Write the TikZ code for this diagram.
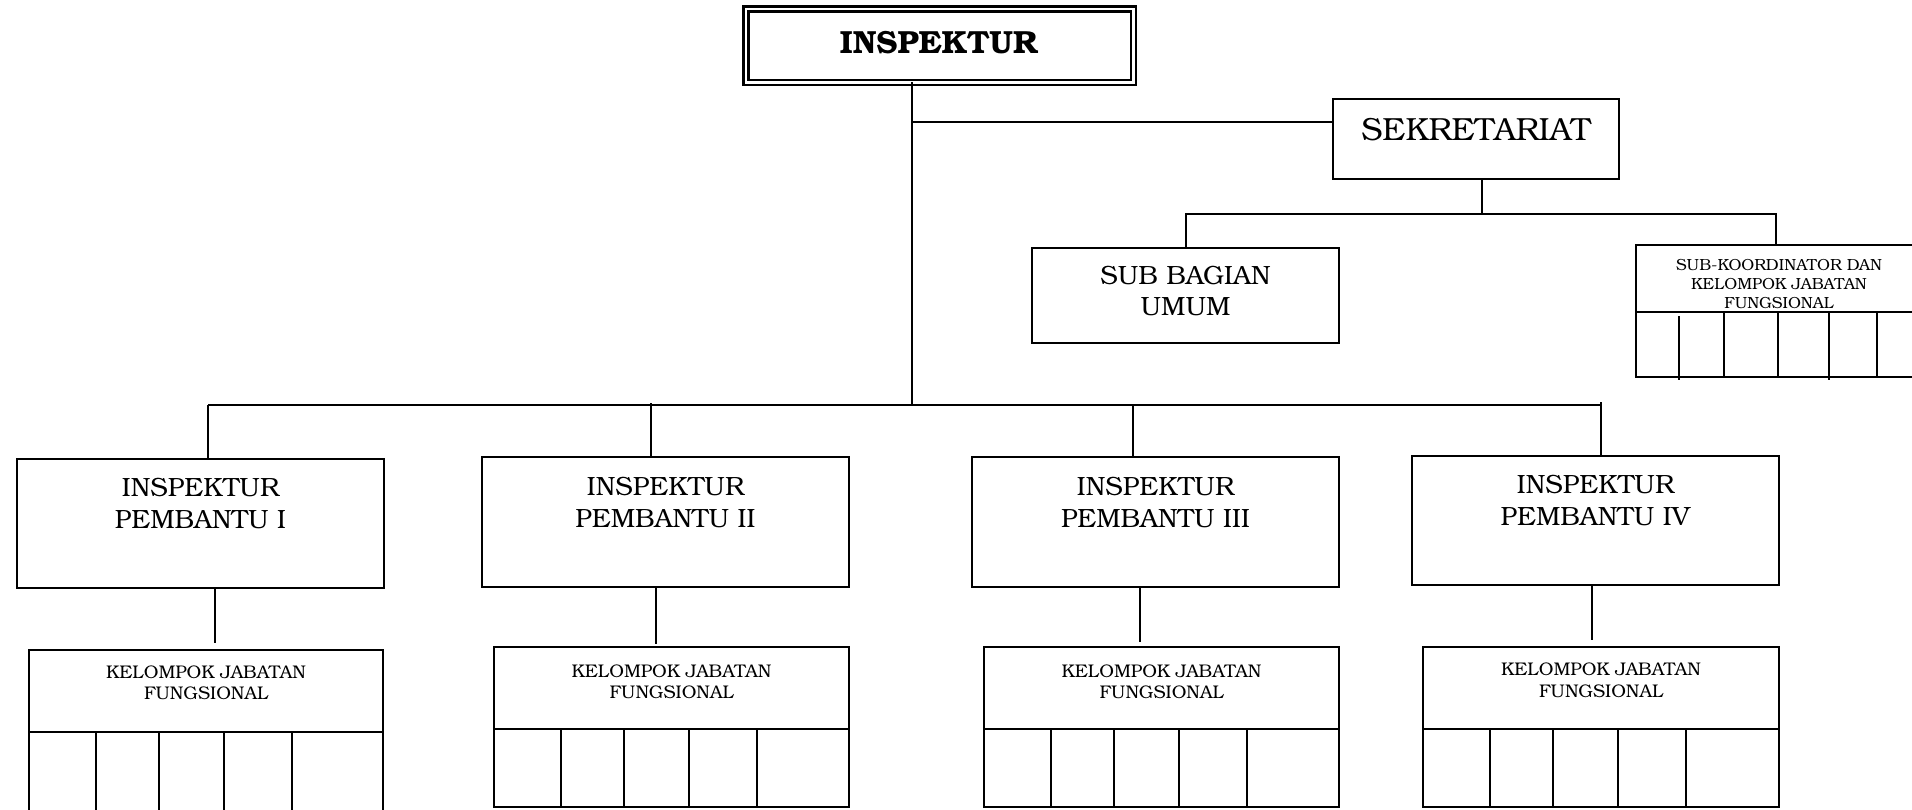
\documentclass[tikz,border=0pt]{standalone}
\usepackage{fontspec}
\setmainfont{texgyrebonum}[Extension=.otf, UprightFont=*-regular, BoldFont=*-bold]
\begin{document}
\begin{tikzpicture}[x=1pt,y=-1pt,
  line width=2pt,
  box/.style={draw, rectangle, line width=2pt, inner sep=0pt, outer sep=0pt, anchor=north west},
  conn/.style={line width=2pt},
  tbig/.style={anchor=base, inner sep=0pt, font=\fontsize{32}{36}\selectfont},
  tmid/.style={anchor=base, inner sep=0pt, font=\fontsize{26.4}{31}\selectfont},
  tsml/.style={anchor=base, inner sep=0pt, font=\fontsize{18.3}{21}\selectfont},
  txs/.style={anchor=base, inner sep=0pt, font=\fontsize{16.1}{19}\selectfont}]
\useasboundingbox (0,0) rectangle (1912,809);
\clip (0,0) rectangle (1912,809);

% boxes
\node[draw, rectangle, line width=2.5pt, double, double distance=2.5pt, inner sep=0pt, outer sep=0pt,
      minimum width=387.5pt, minimum height=73.5pt] (insp) at (939.5,45.5) {};
\node[box, minimum width=286pt, minimum height=80pt]  (sek)  at (1333,99) {};
\node[box, minimum width=307pt, minimum height=95pt]  (sbu)  at (1032,248) {};
\node[box, minimum width=286pt, minimum height=132pt] (skf)  at (1636,245) {};
\node[box, minimum width=367pt, minimum height=129pt] (ip1)  at (17,459) {};
\node[box, minimum width=367pt, minimum height=130pt] (ip2)  at (482,457) {};
\node[box, minimum width=367pt, minimum height=130pt] (ip3)  at (972,457) {};
\node[box, minimum width=367pt, minimum height=129pt] (ip4)  at (1412,456) {};
\node[box, minimum width=354pt, minimum height=170pt] (kjf1) at (29,650) {};
\node[box, minimum width=355pt, minimum height=160pt] (kjf2) at (494,647) {};
\node[box, minimum width=355pt, minimum height=160pt] (kjf3) at (984,647) {};
\node[box, minimum width=356pt, minimum height=160pt] (kjf4) at (1423,647) {};

% grids inside the functional-group boxes
\foreach \n in {kjf1,kjf2,kjf3,kjf4} {
  \draw ([shift={(0,82)}]\n.north west) -- ([shift={(0,82)}]\n.north east);
  \foreach \dx in {67,130,195,263}
    \draw ([shift={(\dx,82)}]\n.north west) -- ([shift={(\dx,0)}]\n.south west);
}
\draw ([shift={(0,67)}]skf.north west) -- ([shift={(0,67)}]skf.north east);
\draw ([shift={(43,71)}]skf.north west) -- ([shift={(43,3)}]skf.south west);
\foreach \dx in {88,142,241}
  \draw ([shift={(\dx,67)}]skf.north west) -- ([shift={(\dx,0)}]skf.south west);
\draw ([shift={(193,67)}]skf.north west) -- ([shift={(193,3)}]skf.south west);

% texts
\node[tbig, font=\fontsize{32}{36}\selectfont\bfseries] (t-insp) at (939,53) {INSPEKTUR};
\node[tbig] (t-sek) at (1476,140) {SEKRETARIAT};
\node[tmid] (t-sbu1) at (1185.5,284) {SUB BAGIAN};
\node[tmid] (t-sbu2) at (1185.5,315) {UMUM};
\node[txs] (t-skf1) at (1779,270) {SUB-KOORDINATOR DAN};
\node[txs] (t-skf2) at (1779,289) {KELOMPOK JABATAN};
\node[txs] (t-skf3) at (1779,308) {FUNGSIONAL};
\node[tmid] (t-ip1a) at (200.5,496) {INSPEKTUR};
\node[tmid] (t-ip1b) at (200.5,528) {PEMBANTU I};
\node[tmid] (t-ip2a) at (665.5,495) {INSPEKTUR};
\node[tmid] (t-ip2b) at (665.5,527) {PEMBANTU II};
\node[tmid] (t-ip3a) at (1155.5,495) {INSPEKTUR};
\node[tmid] (t-ip3b) at (1155.5,527) {PEMBANTU III};
\node[tmid] (t-ip4a) at (1595.5,493) {INSPEKTUR};
\node[tmid] (t-ip4b) at (1595.5,525) {PEMBANTU IV};
\node[tsml] (t-k1a) at (206,678) {KELOMPOK JABATAN};
\node[tsml] (t-k1b) at (206,699) {FUNGSIONAL};
\node[tsml] (t-k2a) at (671.5,677) {KELOMPOK JABATAN};
\node[tsml] (t-k2b) at (671.5,698) {FUNGSIONAL};
\node[tsml] (t-k3a) at (1161.5,677) {KELOMPOK JABATAN};
\node[tsml] (t-k3b) at (1161.5,698) {FUNGSIONAL};
\node[tsml] (t-k4a) at (1601,675) {KELOMPOK JABATAN};
\node[tsml] (t-k4b) at (1601,697) {FUNGSIONAL};

% connectors
\coordinate (j0) at (912,405);
\coordinate (jsek) at (912,122);
\coordinate (barl) at (208,405);
\coordinate (barr) at (1601,405);
\draw[conn] (insp.south -| j0) -- (j0);
\draw[conn] (jsek) -- (jsek -| sek.west);
\draw[conn] (barl) -- (barr);
\coordinate (s1) at (208,405);
\coordinate (s2) at (651,403);
\coordinate (s3) at (1133,405);
\coordinate (s4) at (1601,402);
\draw[conn] (s1) -- (s1 |- ip1.north);
\draw[conn] (s2) -- (s2 |- ip2.north);
\draw[conn] (s3) -- (s3 |- ip3.north);
\draw[conn] (s4) -- (s4 |- ip4.north);
\coordinate (e1) at (215,643);
\coordinate (e2) at (656,644);
\coordinate (e3) at (1140,642);
\coordinate (e4) at (1592,640);
\draw[conn] (e1 |- ip1.south) -- (e1);
\draw[conn] (e2 |- ip2.south) -- (e2);
\draw[conn] (e3 |- ip3.south) -- (e3);
\draw[conn] (e4 |- ip4.south) -- (e4);
\coordinate (js) at (1482,213.5);
\coordinate (jb) at (1186,213.5);
\coordinate (jk) at (1776,213.5);
\draw[conn] (js |- sek.south) -- (js);
\draw[conn] (js) -- (jb) -- (jb |- sbu.north);
\draw[conn] (js) -- (jk) -- (jk |- skf.north);
\end{tikzpicture}
\end{document}
